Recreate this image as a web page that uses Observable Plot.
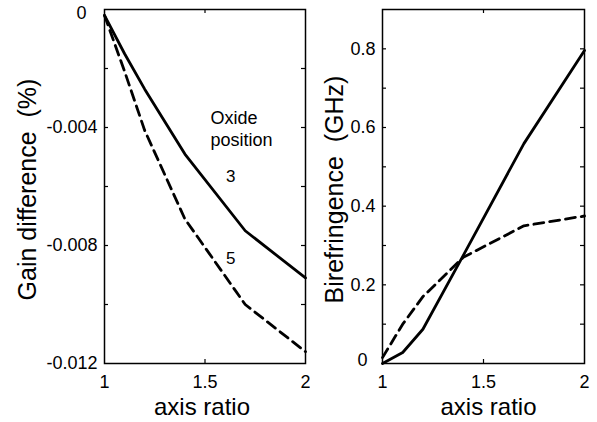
<!DOCTYPE html>
<html><head><meta charset="utf-8">
<script src="https://cdn.jsdelivr.net/npm/d3@7"></script>
<script src="https://cdn.jsdelivr.net/npm/@observablehq/plot@0.6"></script>
<style>
body{margin:0;background:#fff;}
#chart{display:flex;width:597px;height:422px;overflow:hidden;}
#chart svg{flex:none;}
</style></head><body><div id="chart"></div>
<script>
// ---- data ----
const axisRatio = [1, 1.1, 1.2, 1.4, 1.7, 2];
const gainPos3 = [-0.0002, -0.0015, -0.0027, -0.0049, -0.0075, -0.0091];
const gainPos5 = [-0.0002, -0.0021, -0.0041, -0.0071, -0.0100, -0.0116];
const birefPos3 = [0.0, 0.028, 0.087, 0.275, 0.559, 0.796];
const birefPos5 = [0.015, 0.10, 0.17, 0.27, 0.35, 0.375];

const xTicks = [1, 1.5, 2];
const xTickLabels = ["1", "1.5", "2"];
const gainTicks = [0, -0.004, -0.008, -0.012];
const gainTickLabels = ["0", "-0.004", "-0.008", "-0.012"];
const gainMinorTicks = [-0.002, -0.004, -0.006, -0.008, -0.010];
const birefTicks = [0, 0.2, 0.4, 0.6, 0.8];
const birefTickLabels = ["0", "0.2", "0.4", "0.6", "0.8"];
const birefMinorTicks = [0.1, 0.2, 0.3, 0.4, 0.5, 0.6, 0.7, 0.8];

const gainTitle = "Gain difference  (%)";
const birefTitle = "Birefringence  (GHz)";
const xTitle = "axis ratio";

const annotText = ["Oxide\nposition", "3", "5"];
const annotX = [1.527, 1.604, 1.604];
const annotY = [-0.00401, -0.00561, -0.0084];
const annotSize = [18, 17, 17];

// ---- build ----
const FONT = "'Liberation Sans', Arial, Helvetica, sans-serif";
const H = 422, MT = 9, MB = 59;
const rows = axisRatio.map((x, i) => ({x, g3: gainPos3[i], g5: gainPos5[i], b3: birefPos3[i], b5: birefPos5[i]}));
const annots = annotText.map((t, i) => ({t, x: annotX[i], y: annotY[i], s: annotSize[i]}));

function panel({width, ml, mr, yDomain, yTicks, yLabels, minor, k3, k5, title, titleDx, xTitleDx, zeroDx, zeroDy, extra = []}) {
  const fw = width - ml - mr, fh = H - MT - MB;
  const lab = (ticks, labels) => d => labels[ticks.indexOf(d)];
  const nz = yTicks.filter(d => d !== 0);
  const tx = {stroke: "#000", strokeWidth: 0.25, fill: "#000"};
  return Plot.plot({
    width, height: H, marginLeft: ml, marginRight: mr, marginTop: MT, marginBottom: MB,
    style: {fontSize: "18px", fontFamily: FONT, color: "#000", background: "#fff", maxWidth: "none", overflow: "visible"},
    x: {domain: [1, 2]},
    y: {domain: yDomain},
    marks: [
      Plot.frame({stroke: "#000", strokeWidth: 1.5}),
      Plot.tickY(minor, {y: d => d, insetRight: fw - 4, stroke: "#000", strokeWidth: 1.2}),
      Plot.tickY(minor, {y: d => d, insetLeft: fw - 4, stroke: "#000", strokeWidth: 1.2}),
      Plot.tickX([1.5], {x: d => d, insetTop: fh - 4, stroke: "#000", strokeWidth: 1.2}),
      Plot.tickX([1.5], {x: d => d, insetBottom: fh - 4, stroke: "#000", strokeWidth: 1.2}),
      Plot.axisX({ticks: xTicks, label: null, tickSize: 0, tickPadding: 12, tickFormat: lab(xTicks, xTickLabels), fontSize: 18, ...tx}),
      Plot.axisY({ticks: nz, label: null, tickSize: 0, tickPadding: 7, tickFormat: lab(yTicks, yLabels), fontSize: 18, ...tx}),
      Plot.axisY({ticks: [0], label: null, tickSize: 0, tickPadding: 7, tickFormat: lab(yTicks, yLabels), fontSize: 18, dx: zeroDx, dy: zeroDy, ...tx}),
      Plot.line(rows, {x: "x", y: k3, stroke: "#000", strokeWidth: 2.8}),
      Plot.line(rows, {x: "x", y: k5, stroke: "#000", strokeWidth: 2.8, strokeDasharray: "10,6"}),
      Plot.text([title], {text: d => d, frameAnchor: "left", textAnchor: "middle", rotate: -90, lineAnchor: "bottom", dx: titleDx, dy: 3, fontSize: 25}),
      Plot.text([xTitle], {text: d => d, frameAnchor: "bottom", textAnchor: "middle", lineAnchor: "bottom", dy: 51, dx: xTitleDx, fontSize: 24}),
      ...extra
    ]
  });
}

const left = panel({
  width: 310, ml: 104, mr: 5, yDomain: [-0.012, 0],
  yTicks: gainTicks, yLabels: gainTickLabels, minor: gainMinorTicks,
  k3: "g3", k5: "g5", title: gainTitle, titleDx: -69, xTitleDx: -3, zeroDx: -11, zeroDy: 3.5,
  extra: [
    Plot.text(annots, {x: "x", y: "y", text: "t", fontSize: "s", textAnchor: "start", lineHeight: 1.25})
  ]
});
const right = panel({
  width: 287, ml: 72, mr: 13, yDomain: [0, 0.9],
  yTicks: birefTicks, yLabels: birefTickLabels, minor: birefMinorTicks,
  k3: "b3", k5: "b5", title: birefTitle, titleDx: -40, xTitleDx: 5, zeroDx: -8, zeroDy: -3
});
document.getElementById("chart").append(left, right);
</script></body></html>
